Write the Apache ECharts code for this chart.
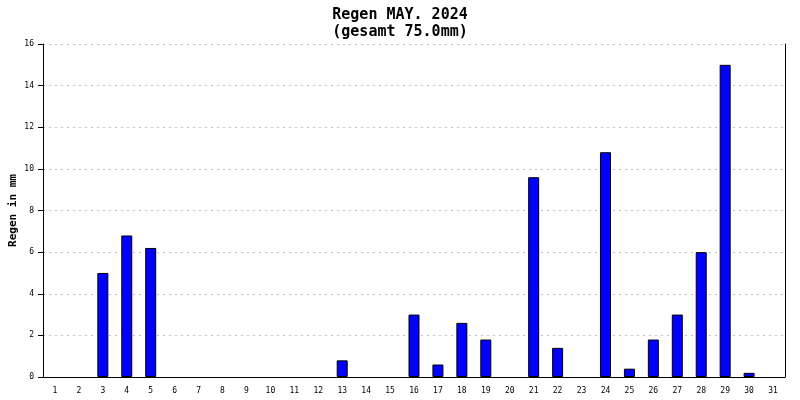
<!DOCTYPE html>
<html><head><meta charset="utf-8">
<script src="https://cdn.jsdelivr.net/npm/echarts@6/dist/echarts.min.js"></script>
<style>html,body{margin:0;padding:0;background:#fff}#c{width:800px;height:400px}</style>
</head><body><div id="c"></div>
<script>
const days = ['1','2','3','4','5','6','7','8','9','10','11','12','13','14','15','16','17','18','19','20','21','22','23','24','25','26','27','28','29','30','31'];
const rain = [0,0,5,6.8,6.2,0,0,0,0,0,0,0,0.8,0,0,3,0.6,2.6,1.8,0,9.6,1.4,0,10.8,0.4,1.8,3,6,15,0.2,0];
const yTicks = [0,2,4,6,8,10,12,14,16];
const titleText = 'Regen MAY. 2024\n(gesamt 75.0mm)';
const yName = 'Regen in mm';
const font = 'DejaVu Sans Mono';
const chart = echarts.init(document.getElementById('c'), null, {renderer:'canvas'});
chart.setOption({
  animation:false,
  backgroundColor:'#fff',
  title:{text:titleText,left:'center',top:2,textStyle:{fontFamily:font,fontWeight:'bold',fontSize:15,color:'#000',lineHeight:17}},
  grid:{left:43,right:15,top:44,bottom:23,outerBoundsMode:'none',containLabel:false},
  xAxis:{type:'category',data:days,
    axisLine:{lineStyle:{color:'#000',width:1}},
    axisTick:{length:6,lineStyle:{color:'#000'}},
    axisLabel:{fontFamily:font,fontSize:8,color:'#000',margin:10,interval:0}},
  yAxis:[{type:'value',min:yTicks[0],max:yTicks[yTicks.length-1],interval:2,
    name:yName,nameLocation:'middle',nameGap:24,nameMoveOverlap:false,
    nameTextStyle:{fontFamily:font,fontWeight:'bold',fontSize:11,color:'#000'},
    axisLine:{show:true,lineStyle:{color:'#000'}},
    axisTick:{show:true,length:5,lineStyle:{color:'#000'}},
    axisLabel:{fontFamily:font,fontSize:8,color:'#000',margin:9},
    splitLine:{lineStyle:{color:'#c0c0c0',type:[2,4]}}},
   {type:'value',min:0,max:16,interval:2,position:'right',
    axisLine:{show:true,lineStyle:{color:'#000'}},axisTick:{show:false},axisLabel:{show:false},splitLine:{show:false}}],
  series:[{type:'bar',data:rain.map(v => v === 0 ? '-' : v),barWidth:11,
    itemStyle:{color:'#0000ff',borderColor:'#000',borderWidth:1}}]
});
</script></body></html>
